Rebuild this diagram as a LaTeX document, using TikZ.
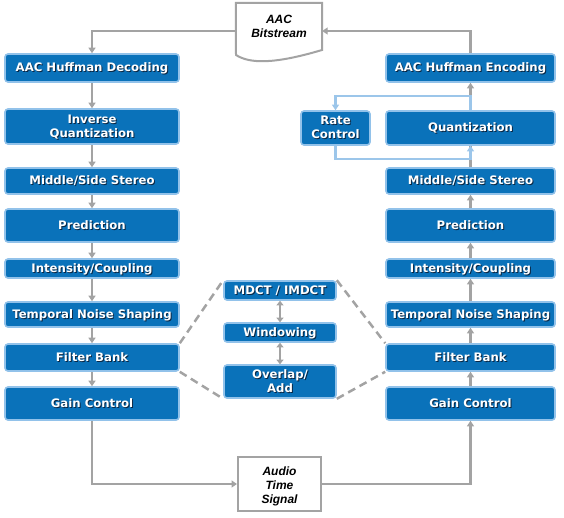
\documentclass[tikz,border=0pt]{standalone}
\usepackage{fontspec}
\setmainfont{DejaVu Sans}
\newfontfamily\iofont{Liberation Sans}
\usetikzlibrary{arrows.meta}
\definecolor{boxblue}{HTML}{0A72BA}
\definecolor{boxedge}{HTML}{92C2EA}
\definecolor{loopblue}{HTML}{9CC6EA}
\definecolor{conn}{HTML}{A3A3A3}
\definecolor{shade}{HTML}{0B2845}
\newcommand{\shtxt}[1]{\raisebox{-1.4pt}[\height][\depth]{\rlap{\hspace{1pt}\raisebox{-1pt}{\color{shade}\begin{tabular}{@{}c@{}}#1\end{tabular}}}{\color{white}\begin{tabular}{@{}c@{}}#1\end{tabular}}}}
\tikzset{
  blk/.style={draw=boxedge, line width=1.6pt, fill=boxblue, rounded corners=3pt, inner sep=0pt,
    font=\fontsize{11.7}{14}\selectfont\bfseries},
  lblk/.style={blk, minimum width=174pt},
  rblk/.style={blk, minimum width=169pt},
  mblk/.style={blk, minimum width=112pt},
  iobox/.style={inner sep=0pt, font=\iofont\fontsize{12}{13.8}\selectfont\bfseries\itshape},
  outline/.style={draw=conn, line width=2pt, fill=white},
  cline/.style={draw=conn, line width=2.2pt},
  carr/.style={cline, -{Triangle[width=7pt,length=5.5pt]}},
  darr/.style={cline, {Triangle[width=7pt,length=4.5pt]}-{Triangle[width=7pt,length=4.5pt]}},
  lline/.style={draw=loopblue, line width=2.2pt},
  larr/.style={lline, -{Triangle[width=7pt,length=5.5pt]}},
  dline/.style={draw=conn, line width=2.5pt, dash pattern=on 8pt off 5pt},
}
\begin{document}
\begin{tikzpicture}[x=1pt,y=-1pt]
\useasboundingbox (0,0) rectangle (564,517);
% left column (decoder)
\node[lblk, minimum height=28pt] (dec) at (92,68) {\shtxt{AAC Huffman Decoding}};
\node[lblk, minimum height=35pt] (iq) at (92,126.5) {\shtxt{Inverse\\Quantization}};
\node[lblk, minimum height=26pt] (lms) at (92,181) {\shtxt{Middle/Side Stereo}};
\node[lblk, minimum height=33pt] (lpred) at (92,225.5) {\shtxt{Prediction}};
\node[lblk, minimum height=19pt] (lint) at (92,268.5) {\shtxt{Intensity/Coupling}};
\node[lblk, minimum height=25pt] (ltns) at (92,314.5) {\shtxt{Temporal Noise Shaping}};
\node[lblk, minimum height=27pt] (lfb) at (92,357.5) {\shtxt{Filter Bank}};
\node[lblk, minimum height=33pt] (lgain) at (92,403.5) {\shtxt{Gain Control}};
% right column (encoder)
\node[rblk, minimum height=28pt] (enc) at (470.5,68) {\shtxt{AAC Huffman Encoding}};
\node[rblk, minimum height=34pt] (quant) at (470.5,128) {\shtxt{Quantization}};
\node[blk, minimum width=69pt, minimum height=34pt] (rate) at (335.5,128) {\shtxt{Rate\\Control}};
\node[rblk, minimum height=26pt] (rms) at (470.5,181) {\shtxt{Middle/Side Stereo}};
\node[rblk, minimum height=33pt] (rpred) at (470.5,225.5) {\shtxt{Prediction}};
\node[rblk, minimum height=19pt] (rint) at (470.5,268.5) {\shtxt{Intensity/Coupling}};
\node[rblk, minimum height=25pt] (rtns) at (470.5,314.5) {\shtxt{Temporal Noise Shaping}};
\node[rblk, minimum height=27pt] (rfb) at (470.5,357.5) {\shtxt{Filter Bank}};
\node[rblk, minimum height=33pt] (rgain) at (470.5,403.5) {\shtxt{Gain Control}};
% middle (filter bank detail)
\node[mblk, minimum height=19pt] (mdct) at (280,290.5) {\shtxt{MDCT / IMDCT}};
\node[mblk, minimum height=19pt] (win) at (280,332.5) {\shtxt{Windowing}};
\node[mblk, minimum height=33pt] (ovl) at (280,381.5) {\shtxt{Overlap/\\Add}};
% bitstream document
\node[iobox, minimum width=86pt, minimum height=56pt] (bits) at (279,31) {};
\draw[outline] (bits.north west) -- (bits.north east) -- (322,50)
  .. controls (275,64) and (250,64) .. (236,55) -- cycle;
\node[iobox] at (bits.center) {\raisebox{3.5pt}[\height][\depth]{\begin{tabular}{@{}c@{}}AAC\\Bitstream\end{tabular}}};
% audio time signal
\node[iobox, outline, minimum width=83pt, minimum height=54pt] (aud) at (279.5,484)
  {\raisebox{-3pt}[\height][\depth]{\begin{tabular}{@{}c@{}}Audio\\Time\\Signal\end{tabular}}};
% decoder chain
\draw[carr] (bits.west) -| (dec.north);
\draw[carr] (dec) -- (iq);
\draw[carr] (iq) -- (lms);
\draw[carr] (lms) -- (lpred);
\draw[carr] (lpred) -- (lint);
\draw[carr] (lint) -- (ltns);
\draw[carr] (ltns) -- (lfb);
\draw[carr] (lfb) -- (lgain);
\draw[carr] (lgain.south) |- (aud.west);
% encoder chain
\draw[carr] (aud.east) -| (rgain.south);
\draw[carr] (rgain) -- (rfb);
\draw[carr] (rfb) -- (rtns);
\draw[carr] (rtns) -- (rint);
\draw[carr] (rint) -- (rpred);
\draw[carr] (rpred) -- (rms);
\draw[cline] (rms) -- (quant);
\draw[carr] (quant) -- (enc);
\draw[carr] (enc.north) |- (bits.east);
% rate control loop
\draw[larr] (quant.north) -- ++(0,-14) -| (rate.north);
\draw[larr] (rate.south) -- ++(0,13) -| (quant.south);
% filter bank detail
\draw[darr] (mdct) -- (win);
\draw[darr] (win) -- (ovl);
\draw[dline] (lfb.north east) -- (mdct.north west);
\draw[dline] (lfb.south east) -- (ovl.south west);
\draw[dline] (mdct.north east) -- (rfb.north west);
\draw[dline] (ovl.south east) -- (rfb.south west);
\end{tikzpicture}
\end{document}
